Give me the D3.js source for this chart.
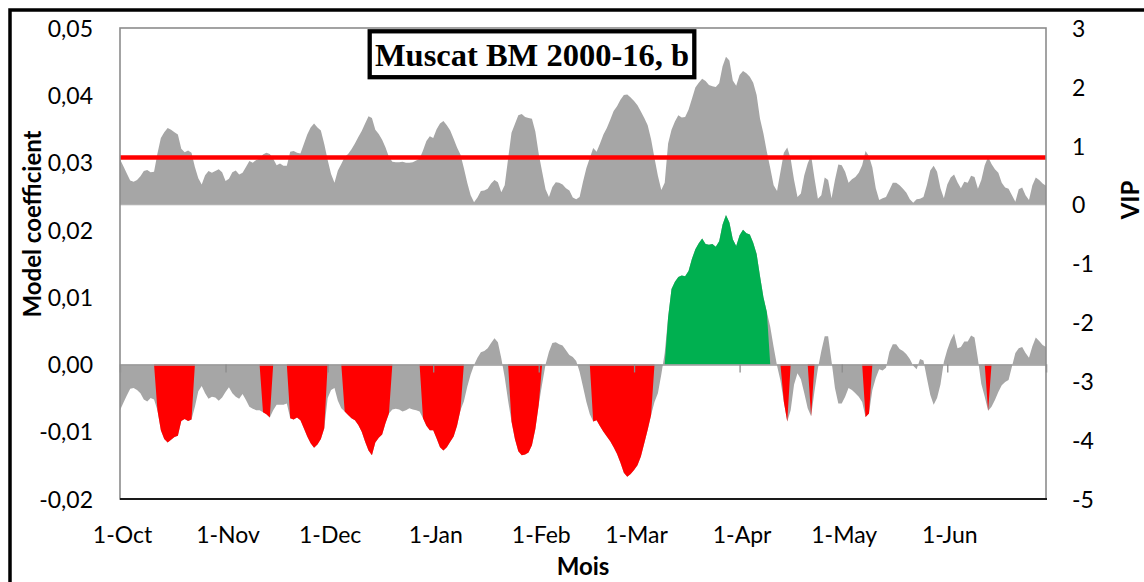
<!DOCTYPE html>
<html>
<head>
<meta charset="utf-8">
<script src="https://cdn.jsdelivr.net/npm/d3@7"></script>
<style>
  html, body { margin: 0; padding: 0; background: #fff; }
  svg { display: block; }
  text { fill: #000; }
</style>
</head>
<body>
<svg id="chart" width="1144" height="582"></svg>
<script>
// Daily values, 1 October to 30 June (day index 0..272)
const vip = [
  0.77,0.65,0.53,0.41,0.39,0.42,0.48,0.57,0.59,0.55,
  0.56,0.87,1.13,1.23,1.30,1.27,1.23,1.19,0.95,0.89,
  0.92,0.88,0.64,0.45,0.34,0.50,0.57,0.54,0.57,0.60,
  0.55,0.40,0.44,0.55,0.58,0.51,0.54,0.64,0.74,0.71,
  0.76,0.78,0.85,0.88,0.86,0.78,0.67,0.70,0.66,0.66,
  0.90,0.91,0.88,0.87,1.03,1.19,1.31,1.38,1.31,1.26,
  1.03,0.76,0.52,0.37,0.58,0.69,0.81,0.86,0.94,1.04,
  1.15,1.25,1.38,1.50,1.47,1.27,1.20,1.10,0.97,0.81,
  0.73,0.72,0.72,0.73,0.71,0.71,0.72,0.75,0.78,0.92,
  1.08,1.16,1.13,1.28,1.38,1.42,1.35,1.26,1.12,0.97,
  0.85,0.62,0.37,0.16,0.04,0.12,0.23,0.24,0.27,0.36,
  0.42,0.38,0.21,0.33,0.78,1.22,1.37,1.52,1.54,1.49,
  1.47,1.46,1.24,0.86,0.56,0.26,0.13,0.30,0.38,0.37,
  0.34,0.28,0.24,0.12,0.09,0.13,0.39,0.62,0.79,0.96,
  0.90,1.04,1.19,1.30,1.44,1.59,1.67,1.78,1.86,1.87,
  1.82,1.76,1.69,1.58,1.47,1.35,1.11,0.79,0.49,0.25,
  0.37,1.04,1.27,1.41,1.52,1.48,1.49,1.61,1.80,1.99,
  2.07,2.14,2.10,2.03,2.01,2.00,2.06,2.35,2.51,2.45,
  2.11,2.02,2.20,2.27,2.23,2.17,2.07,1.86,1.46,1.21,
  0.90,0.62,0.33,0.23,0.56,0.88,0.97,0.78,0.42,0.13,
  0.19,0.50,0.70,0.84,0.45,0.10,0.16,0.46,0.42,0.11,
  0.42,0.68,0.67,0.56,0.37,0.43,0.47,0.54,0.67,0.91,
  0.82,0.63,0.28,0.08,0.11,0.13,0.25,0.37,0.37,0.33,
  0.27,0.20,0.09,0.03,0.09,0.10,0.13,0.33,0.58,0.66,
  0.56,0.28,0.11,0.34,0.46,0.51,0.38,0.28,0.39,0.37,
  0.49,0.47,0.27,0.42,0.67,0.81,0.69,0.60,0.54,0.37,
  0.29,0.27,0.16,0.05,0.26,0.29,0.16,0.08,0.33,0.46,
  0.42,0.36,0.32
];

const coef = [
  -0.0068,-0.0057,-0.0046,-0.0036,-0.0035,-0.0038,-0.0043,-0.0052,-0.0055,-0.0050,
  -0.0052,-0.0068,-0.0098,-0.0111,-0.0116,-0.0112,-0.0108,-0.0106,-0.0084,-0.0081,
  -0.0084,-0.0082,-0.0063,-0.0040,-0.0032,-0.0043,-0.0051,-0.0048,-0.0049,-0.0054,
  -0.0049,-0.0041,-0.0034,-0.0043,-0.0048,-0.0051,-0.0044,-0.0053,-0.0063,-0.0066,
  -0.0068,-0.0068,-0.0071,-0.0074,-0.0079,-0.0068,-0.0060,-0.0060,-0.0060,-0.0058,
  -0.0080,-0.0082,-0.0079,-0.0083,-0.0095,-0.0107,-0.0117,-0.0124,-0.0119,-0.0111,
  -0.0095,-0.0050,-0.0038,-0.0035,-0.0054,-0.0065,-0.0070,-0.0075,-0.0080,-0.0083,
  -0.0090,-0.0100,-0.0115,-0.0128,-0.0135,-0.0116,-0.0109,-0.0104,-0.0087,-0.0073,
  -0.0067,-0.0066,-0.0067,-0.0070,-0.0068,-0.0065,-0.0067,-0.0068,-0.0070,-0.0080,
  -0.0091,-0.0098,-0.0098,-0.0110,-0.0123,-0.0128,-0.0123,-0.0115,-0.0107,-0.0091,
  -0.0068,-0.0055,-0.0033,-0.0015,-0.0001,0.0010,0.0018,0.0020,0.0024,0.0032,
  0.0039,0.0033,0.0009,-0.0019,-0.0054,-0.0085,-0.0111,-0.0129,-0.0135,-0.0134,
  -0.0131,-0.0120,-0.0096,-0.0060,-0.0029,0.0000,0.0019,0.0032,0.0033,0.0030,
  0.0028,0.0021,0.0014,0.0011,0.0005,-0.0011,-0.0033,-0.0056,-0.0074,-0.0085,
  -0.0083,-0.0092,-0.0100,-0.0107,-0.0114,-0.0123,-0.0133,-0.0146,-0.0161,-0.0167,
  -0.0163,-0.0157,-0.0150,-0.0137,-0.0117,-0.0097,-0.0075,-0.0056,-0.0043,-0.0015,
  0.0017,0.0070,0.0112,0.0123,0.0130,0.0132,0.0131,0.0139,0.0157,0.0171,
  0.0180,0.0187,0.0179,0.0178,0.0179,0.0175,0.0183,0.0208,0.0222,0.0211,
  0.0186,0.0176,0.0192,0.0200,0.0195,0.0193,0.0181,0.0164,0.0131,0.0100,
  0.0078,0.0056,0.0026,-0.0002,-0.0024,-0.0056,-0.0085,-0.0068,-0.0030,-0.0013,
  -0.0022,-0.0043,-0.0065,-0.0077,-0.0040,-0.0006,0.0020,0.0042,0.0042,0.0005,
  -0.0035,-0.0058,-0.0058,-0.0048,-0.0035,-0.0038,-0.0043,-0.0048,-0.0056,-0.0078,
  -0.0073,-0.0038,-0.0020,-0.0007,-0.0009,-0.0005,0.0019,0.0030,0.0030,0.0023,
  0.0020,0.0015,0.0008,-0.0002,-0.0007,0.0008,0.0006,-0.0020,-0.0045,-0.0060,
  -0.0050,-0.0030,0.0004,0.0022,0.0036,0.0046,0.0024,0.0026,0.0034,0.0034,
  0.0043,0.0040,0.0008,-0.0029,-0.0048,-0.0069,-0.0063,-0.0053,-0.0041,-0.0031,
  -0.0026,-0.0023,-0.0003,0.0017,0.0024,0.0026,0.0017,0.0010,0.0027,0.0040,
  0.0035,0.0029,0.0026
];

const monthStart  = [0, 31, 61, 92, 123, 151, 182, 212, 243];
const monthLabels = ["1-Oct", "1-Nov", "1-Dec", "1-Jan", "1-Feb", "1-Mar", "1-Apr", "1-May", "1-Jun"];
const coefTicks = [-0.02, -0.01, 0.00, 0.01, 0.02, 0.03, 0.04, 0.05];
const vipTicks  = [-5, -4, -3, -2, -1, 0, 1, 2, 3];
const vipThreshold = 0.8;
const chartTitle = "Muscat BM 2000-16, b";

const sans  = "Lato, 'Open Sans', sans-serif";
const serif = "'Liberation Serif', 'Times New Roman', serif";

const svg = d3.select("#chart");
const plot = { left: 120, right: 1046, top: 28, bottom: 499 };

const x  = d3.scaleLinear().domain([0, vip.length - 1]).range([plot.left, plot.right]);
const yL = d3.scaleLinear().domain([-0.02, 0.05]).range([plot.bottom, plot.top]);
const yR = d3.scaleLinear().domain([-5, 3]).range([plot.bottom, plot.top]);

const fr = d3.formatLocale({ decimal: ",", thousands: " ", grouping: [3], currency: ["", " €"], minus: "-" });
const fmtCoef = fr.format(".2f");
const fmtVip  = fr.format("d");

const days = d3.range(vip.length);
const gray = "#a6a6a6";

// outer frame
svg.append("rect")
  .attr("x", 10).attr("y", 10).attr("width", 1300).attr("height", 800)
  .attr("fill", "none").attr("stroke", "#000").attr("stroke-width", 3.5);

// model coefficients: all days in grey, significant days (VIP > 0.8) coloured
const coefArea = acc => d3.area().x(d => x(d)).y0(yL(0)).y1(d => yL(acc(d)));
svg.append("path").datum(days).attr("fill", gray).attr("d", coefArea(d => coef[d]));
svg.append("path").datum(days).attr("fill", "#ff0000")
  .attr("d", coefArea(d => (vip[d] > vipThreshold && coef[d] < 0) ? coef[d] : 0));
svg.append("path").datum(days).attr("fill", "#00b050")
  .attr("d", coefArea(d => (vip[d] > vipThreshold && coef[d] > 0) ? coef[d] : 0));

// VIP on the secondary axis
svg.append("line")
  .attr("x1", plot.left).attr("x2", plot.right).attr("y1", yR(0)).attr("y2", yR(0))
  .attr("stroke", "#d4d4d4").attr("stroke-width", 1.5);
svg.append("path").datum(days).attr("fill", gray)
  .attr("d", d3.area().x(d => x(d)).y0(yR(0)).y1(d => yR(vip[d])));

// VIP threshold
svg.append("line")
  .attr("x1", plot.left).attr("x2", plot.right)
  .attr("y1", yR(vipThreshold)).attr("y2", yR(vipThreshold))
  .attr("stroke", "#ff0000").attr("stroke-width", 4.5);

// zero line with month ticks
const zeroAxis = svg.append("g").attr("transform", `translate(0,${yL(0)})`)
  .call(d3.axisBottom(x).tickValues(monthStart.slice(1)).tickSize(8).tickFormat(""));
zeroAxis.select(".domain").attr("stroke", "#9a9a9a").attr("stroke-width", 1.6);
zeroAxis.selectAll(".tick line").attr("stroke", "#8c8c8c").attr("stroke-width", 1.3);

// plot border
svg.append("rect")
  .attr("x", plot.left).attr("y", plot.top)
  .attr("width", plot.right - plot.left).attr("height", plot.bottom - plot.top)
  .attr("fill", "none").attr("stroke", "#8c8c8c").attr("stroke-width", 1.6);
svg.append("line")
  .attr("x1", plot.left).attr("x2", plot.right + 1).attr("y1", plot.bottom).attr("y2", plot.bottom)
  .attr("stroke", "#1a1a1a").attr("stroke-width", 2);

// left axis
const axL = svg.append("g").attr("transform", `translate(${plot.left},0)`)
  .call(d3.axisLeft(yL).tickValues(coefTicks).tickFormat(fmtCoef).tickSize(0).tickPadding(27));
axL.select(".domain").remove();
axL.selectAll("text").attr("dy", "0.36em")
  .style("font-family", sans).style("font-size", "23px").style("fill", "#000");

// right axis
const axR = svg.append("g").attr("transform", `translate(${plot.right},0)`)
  .call(d3.axisRight(yR).tickValues(vipTicks).tickFormat(fmtVip).tickSize(0).tickPadding(26));
axR.select(".domain").remove();
axR.selectAll("text").attr("dy", "0.36em")
  .style("font-family", sans).style("font-size", "23px").style("fill", "#000");

// month labels
const axB = svg.append("g").attr("transform", `translate(2,${plot.bottom})`)
  .call(d3.axisBottom(x).tickValues(monthStart).tickSize(0)
    .tickFormat((d, i) => monthLabels[i]));
axB.select(".domain").remove();
axB.selectAll("text").attr("y", 44).attr("dy", 0)
  .style("font-family", sans).style("font-size", "23px").style("fill", "#000");

// axis titles
const title = (sel) => sel.style("font-family", sans).style("font-size", "24px")
  .style("font-weight", "bold").attr("text-anchor", "middle");
svg.append("text").attr("x", 583).attr("y", 575).call(title).text("Mois");
svg.append("text").attr("transform", "translate(41,224) rotate(-90)").call(title)
  .text("Model coefficient");
svg.append("text").attr("transform", "translate(1139,200) rotate(-90)").call(title)
  .text("VIP");

// title box
svg.append("rect").attr("x", 369.7).attr("y", 31.3).attr("width", 324.6).attr("height", 45.9)
  .attr("fill", "#fff").attr("stroke", "#000").attr("stroke-width", 4.3);
svg.append("text").attr("x", 532).attr("y", 65.5).attr("text-anchor", "middle")
  .style("font-family", serif).style("font-size", "32.5px").style("font-weight", "bold")
  .text(chartTitle);
</script>
</body>
</html>
